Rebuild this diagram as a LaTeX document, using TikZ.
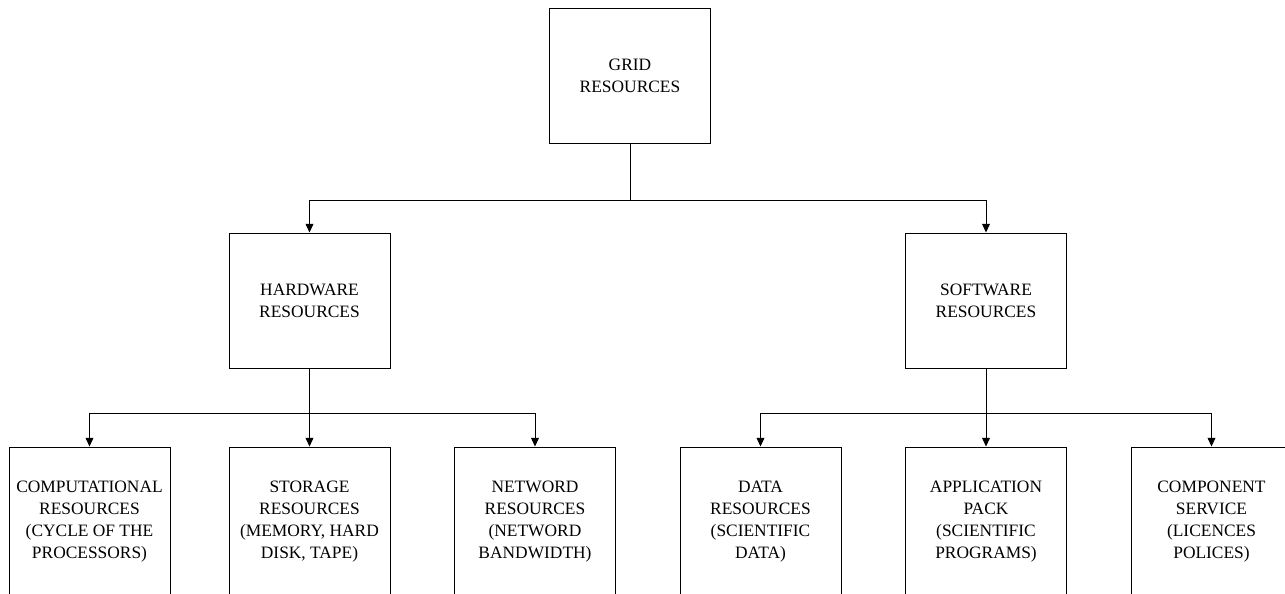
\documentclass[tikz,border=0pt]{standalone}
\usepackage{fontspec}
\setmainfont{Liberation Serif}
\usetikzlibrary{arrows.meta}

\tikzset{
  res/.style={draw,line width=.55pt,minimum width=3.22cm,minimum height=2.7cm,align=center,inner sep=0pt,font=\fontsize{9.9}{12.5}\selectfont},
  leaf/.style={res,minimum height=3cm},
  link/.style={line width=.55pt,-{Triangle[length=5pt,width=4.5pt]}}
}

\begin{document}
\begin{tikzpicture}[x=.02cm,y=-.02cm]
\useasboundingbox (0,0) rectangle (1285,593);
\clip (0,0) rectangle (1285,593);
\node[res] (grid) at (630,75.5) {GRID\\RESOURCES};
\node[res] (hw) at (309.5,300.5) {HARDWARE\\RESOURCES};
\node[res] (sw) at (986,300.5) {SOFTWARE\\RESOURCES};
\node[leaf] (comp) at (89.5,522) {COMPUTATIONAL\\RESOURCES\\(CYCLE OF THE\\PROCESSORS)};
\node[leaf] (stor) at (309.5,522) {STORAGE\\RESOURCES\\(MEMORY, HARD\\DISK, TAPE)};
\node[leaf] (net) at (535,522) {NETWORD\\RESOURCES\\(NETWORD\\BANDWIDTH)};
\node[leaf] (data) at (760.5,522) {DATA\\RESOURCES\\(SCIENTIFIC\\DATA)};
\node[leaf] (app) at (986,522) {APPLICATION\\PACK\\(SCIENTIFIC\\PROGRAMS)};
\node[leaf] (comps) at (1211.5,522) {COMPONENT\\SERVICE\\(LICENCES\\POLICES)};
\coordinate (bus) at (630,200);
\coordinate (hwbus) at (309.5,413);
\coordinate (swbus) at (986,413);
\draw[line width=.55pt] (grid.south) -- (bus);
\draw[link] (bus) -| (hw.north);
\draw[link] (bus) -| (sw.north);
\draw[link] (hw.south) -- (stor.north);
\draw[link] (hwbus) -| (comp.north);
\draw[link] (hwbus) -| (net.north);
\draw[link] (sw.south) -- (app.north);
\draw[link] (swbus) -| (data.north);
\draw[link] (swbus) -| (comps.north);
\end{tikzpicture}
\end{document}
